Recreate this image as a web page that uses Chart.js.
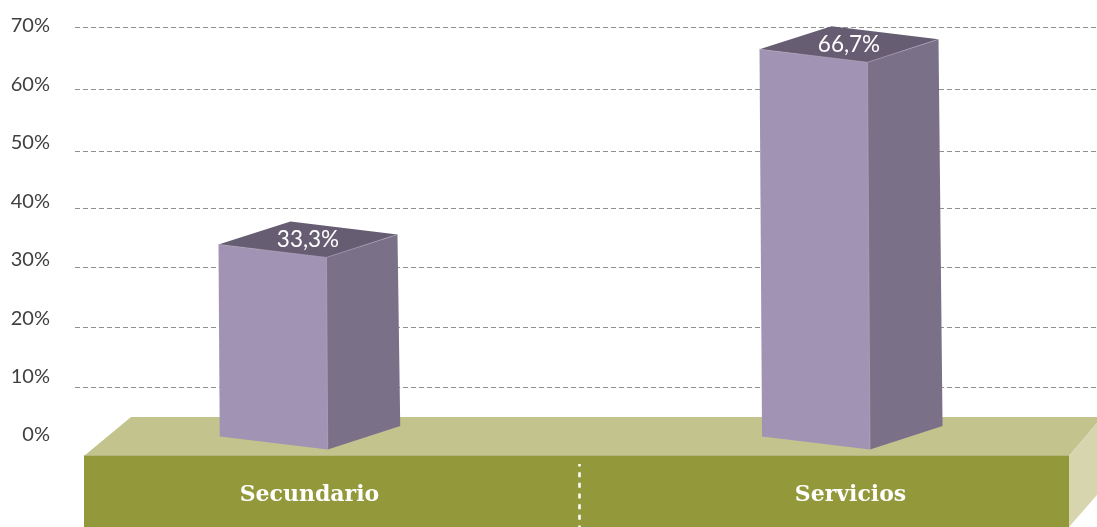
<!DOCTYPE html>
<html><head><meta charset="utf-8">
<script src="https://cdn.jsdelivr.net/npm/chart.js@4"></script>
<style>html,body{margin:0;padding:0;background:#fff;overflow:hidden}canvas{display:block}</style>
</head><body><canvas id="c" width="1097" height="527"></canvas>
<script>
const categories = ['Secundario', 'Servicios'];
const shares = [33.3, 66.7];
const tickValues = [0, 10, 20, 30, 40, 50, 60, 70];
// the reference's dashed lines are not quite evenly spaced
const gridLevels = [10, 20, 29.9, 39.7, 49.2, 59.6, 70];

const COL = {front:'#a193b3', side:'#7a7088', top:'#675d73', floorTop:'#c3c38e', floorFront:'#93993b', floorSide:'#d6d5ae'};

function poly(ctx, pts, fill, stroke){
  ctx.beginPath();
  pts.forEach((p,i)=> i ? ctx.lineTo(p[0],p[1]) : ctx.moveTo(p[0],p[1]));
  ctx.closePath();
  ctx.fillStyle = fill; ctx.fill();
  if (stroke){ ctx.strokeStyle = stroke; ctx.lineWidth = 0.6; ctx.stroke(); }
}
function noPad(s){ s.paddingTop = 0; s.paddingBottom = 0; s.paddingLeft = 0; s.paddingRight = 0; }

const scene = {
  id:'scene',
  beforeDraw(chart){
    const ctx = chart.ctx;
    ctx.save();
    poly(ctx, [[84,456],[131,417],[1097,417],[1097,423],[1069,456]], COL.floorTop);
    poly(ctx, [[1069,456],[1097,423],[1097,495],[1069,527]], COL.floorSide);
    ctx.fillStyle = COL.floorFront;
    ctx.fillRect(84,456,985,71);
    ctx.fillStyle = '#b4b87c';
    ctx.fillRect(84,455,985,1);
    ctx.strokeStyle = '#ffffff';
    ctx.lineWidth = 2.5;
    ctx.setLineDash([5,5.67]);
    ctx.lineDashOffset = 2.5;
    ctx.beginPath(); ctx.moveTo(579.5,464); ctx.lineTo(579.5,527); ctx.stroke();
    ctx.restore();
  },
  afterDatasetsDraw(chart){
    const ctx = chart.ctx;
    const meta = chart.getDatasetMeta(0);
    ctx.save();
    meta.data.forEach((el,i)=>{
      const x = el.x - 0.5, t = el.y - 1, b = el.base - 1;
      const lean = (b - t) * 0.0065;
      const fl = [x-90.5, t+5], fr = [x+17.5, t+18], br = [x+88.5, t-5], bk = [x-18.5, t-18];
      const dl = [x-90.5+lean, b+2.5], dr = [x+17.5+lean, b+15.5], de = [x+88.5+lean+1.5, b-8];
      poly(ctx, [fl,fr,dr,dl], COL.front);
      poly(ctx, [fr,br,de,dr], COL.side);
      poly(ctx, [fl,bk,br,fr], COL.top);
      ctx.strokeStyle = '#b5abc2'; ctx.lineWidth = 0.6;
      ctx.beginPath(); ctx.moveTo(fl[0],fl[1]); ctx.lineTo(fr[0],fr[1]); ctx.lineTo(br[0],br[1]); ctx.moveTo(fr[0],fr[1]); ctx.lineTo(dr[0],dr[1]); ctx.stroke();
      ctx.fillStyle = '#ffffff';
      ctx.font = '400 22.5px Lato';
      ctx.textAlign = 'center'; ctx.textBaseline = 'middle';
      ctx.fillText(shares[i].toFixed(1).replace('.',',') + '%', x - 1, t);
    });
    ctx.restore();
  }
};

new Chart(document.getElementById('c'), {
  type:'bar',
  plugins:[scene],
  data:{ datasets:[{
    data: categories.map((c,i)=>({x:i+1, y:shares[i]})),
    backgroundColor: COL.front,
    borderWidth:0,
    barThickness:100,
    xAxisID:'x',
    yAxisID:'yLabels',
    clip:false
  }]},
  options:{
    responsive:false,
    animation:false,
    events:[],
    layout:{padding:{top:27,left:0,right:0,bottom:0}},
    plugins:{legend:{display:false},title:{display:false},tooltip:{enabled:false}},
    scales:{
      x:{
        type:'linear', position:'bottom', offset:false,
        min:0.5666, max:2.4556,
        grid:{display:false, drawTicks:false}, border:{display:false},
        afterBuildTicks(s){ s.ticks = categories.map((c,i)=>({value:i+1})); },
        afterFit(s){ s.height = 80; noPad(s); },
        ticks:{
          autoSkip:false, maxRotation:0, minRotation:0, padding:35,
          color:'#ffffff',
          font:{family:'"DejaVu Serif"', size:22, weight:'bold'},
          callback(v){ return categories[v-1]; }
        }
      },
      yLabels:{
        type:'linear', position:'left',
        min:-2.05, max:69.83,
        grid:{display:false, drawTicks:false}, border:{display:false},
        afterBuildTicks(s){ s.ticks = tickValues.map(v=>({value:v})); },
        afterFit(s){ s.width = 75; noPad(s); },
        ticks:{
          autoSkip:false, padding:25, color:'#404040',
          font:{family:'Lato', size:20, weight:'400'},
          callback(v){ return v + '%'; }
        }
      },
      y:{
        type:'linear', position:'left',
        min:0, max:70,
        border:{display:false, dash:[5,3]},
        afterBuildTicks(s){ s.ticks = gridLevels.map(v=>({value:v})); },
        afterFit(s){ s.width = 0; noPad(s); },
        ticks:{display:false},
        grid:{color:'#8f8f8f', lineWidth:1, drawTicks:false}
      }
    }
  }
});
</script>
</body></html>
